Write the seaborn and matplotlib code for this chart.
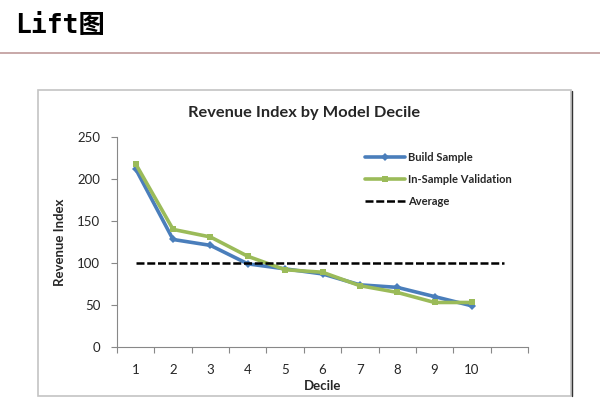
import matplotlib
matplotlib.use("Agg")
import matplotlib.pyplot as plt
import pandas as pd
import seaborn as sns
from matplotlib.patches import Rectangle
from matplotlib.lines import Line2D

# data
deciles = [1, 2, 3, 4, 5, 6, 7, 8, 9, 10]
build_sample = [212, 128, 121, 99, 93, 87, 74, 71, 60, 49]
in_sample_validation = [218, 140, 131, 108, 92, 89, 73, 65, 53, 53]
average_deciles = [1, 10.87]
average = [100, 100]
y_ticks = [0, 50, 100, 150, 200, 250]

df = pd.DataFrame({'Decile': deciles,
                   'Build Sample': build_sample,
                   'In-Sample Validation': in_sample_validation})
df_avg = pd.DataFrame({'Decile': average_deciles, 'Average': average})

sns.set_style("white")
plt.rcParams['font.family'] = ['Lato', 'DejaVu Sans']

W, H = 600, 408
fig = plt.figure(figsize=(6, 4.08), dpi=100)

# slide title and red rule
fig.text(15 / W, 1 - 26 / H, 'Lift图', fontsize=19, fontweight='bold', va='center', ha='left',
         family=['DejaVu Sans Mono', 'Noto Sans CJK SC'], color='black')
fig.add_artist(Line2D([0, 1], [1 - 53 / H, 1 - 53 / H], color='#bf9a9a', lw=1.2))

# chart frame
fig.add_artist(Rectangle((38 / W, 1 - 396 / H), 533 / W, 306 / H, fill=False,
                         edgecolor='#c4c4c4', lw=1.2))
fig.add_artist(Line2D([572 / W, 572 / W], [1 - 396 / H, 1 - 91 / H], color='#333333', lw=1.0))

ax = fig.add_axes([117 / W, 1 - 347 / H, 411 / W, 210 / H])

sns.lineplot(data=df, x='Decile', y='Build Sample', ax=ax, color='#4a7ebb', lw=2.6,
             marker='D', markersize=4, markeredgewidth=0, label='Build Sample')
sns.lineplot(data=df, x='Decile', y='In-Sample Validation', ax=ax, color='#9bbb59', lw=2.6,
             marker='s', markersize=4, markeredgewidth=0, label='In-Sample Validation')
sns.lineplot(data=df_avg, x='Decile', y='Average', ax=ax, color='black', lw=1.8,
             linestyle=(0, (3.2, 1.1)), label='Average')

ax.set_xlim(0.5, 11.5)
ax.set_ylim(0, 250)
ax.set_yticks(y_ticks)
ax.set_xticks(deciles)
ax.set_xticks([d + 0.5 for d in range(0, 12)], minor=True)
ax.tick_params(axis='x', which='major', length=0, pad=12, labelsize=9.5)
ax.tick_params(axis='x', which='minor', length=4, width=0.8, color='#888888', direction='out', bottom=True)
ax.tick_params(axis='y', which='major', length=4, width=0.8, color='#888888', direction='out', left=True,
               pad=8, labelsize=9.5)
for s in ['top', 'right']:
    ax.spines[s].set_visible(False)
for s in ['left', 'bottom']:
    ax.spines[s].set_color('#888888')
    ax.spines[s].set_linewidth(0.8)

ax.set_xlabel('Decile', fontsize=9.5, fontweight='bold', labelpad=3)
ax.set_ylabel('Revenue Index', fontsize=9.5, fontweight='bold', labelpad=8)
fig.text(304 / W, 1 - 113 / H, 'Revenue Index by Model Decile', fontsize=11.8, fontweight='bold',
         ha='center', va='center')

ax.get_legend().remove()
handles, labels = ax.get_legend_handles_labels()
fig.legend(handles, labels, loc='upper left', bbox_to_anchor=(365 / W, 1 - 152 / H),
           frameon=False, prop={'weight': 'bold', 'size': 8},
           handlelength=3.6, handletextpad=0.3, labelspacing=1.0,
           borderpad=0, borderaxespad=0)

fig.savefig('out.png', dpi=100, facecolor='white')
